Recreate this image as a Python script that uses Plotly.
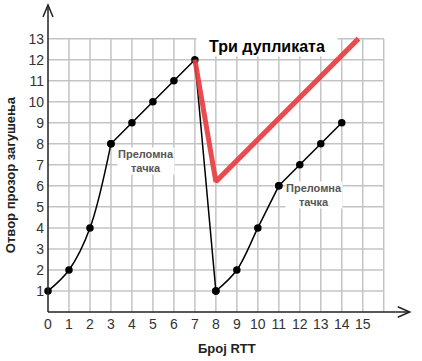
import plotly.graph_objects as go

# Data
rtt_a = [0, 1, 2, 3]
cwnd_a = [1, 2, 4, 8]
rtt_b = [3, 4, 5, 6, 7, 8]
cwnd_b = [8, 9, 10, 11, 12, 1]
rtt_c = [8, 9, 10, 11]
cwnd_c = [1, 2, 4, 6]
rtt_d = [11, 12, 13, 14]
cwnd_d = [6, 7, 8, 9]
red_x = [7, 8, 14.8]
red_y = [12, 6.2, 13]
x_ticks = list(range(0, 16))
y_ticks = list(range(1, 14))
grid_x_max = 16
grid_y_max = 13

XMAX = 17.3
YMAX = 14.6
W, H = 422, 361
ML, MR, MT, MB = 48, 10.7, 5.1, 49.3
pw = W - ML - MR
ph = H - MT - MB


def px(xp):
    return (xp - ML) / pw


def py(yp):
    return (H - MB - yp) / ph


fig = go.Figure()

# grid
shapes = []
gc = "#c4c4c4"
for gx in range(1, grid_x_max + 1):
    shapes.append(dict(type="line", xref="x", yref="y", x0=gx, x1=gx, y0=0, y1=grid_y_max,
                       line=dict(color=gc, width=1.5), layer="below"))
for gy in range(1, grid_y_max + 1):
    shapes.append(dict(type="line", xref="x", yref="y", x0=0, x1=grid_x_max, y0=gy, y1=gy,
                       line=dict(color=gc, width=1.5), layer="below"))
# axes with arrows (paper coords so they are not clipped)
ax_col = "#222"
shapes.append(dict(type="line", xref="paper", yref="paper", x0=px(48), x1=px(410), y0=py(311.7), y1=py(311.7),
                   line=dict(color=ax_col, width=1.5)))
shapes.append(dict(type="line", xref="paper", yref="paper", x0=px(48), x1=px(48), y0=py(311.7), y1=py(5),
                   line=dict(color=ax_col, width=1.5)))
shapes.append(dict(type="path", xref="paper", yref="paper",
                   path=f"M {px(398)},{py(306.5)} L {px(410)},{py(311.7)} L {px(398)},{py(316.9)}",
                   line=dict(color=ax_col, width=1.5)))
shapes.append(dict(type="path", xref="paper", yref="paper",
                   path=f"M {px(43)},{py(17)} L {px(48)},{py(5)} L {px(53)},{py(17)}",
                   line=dict(color=ax_col, width=1.5)))

line_style = dict(color="black", width=1.5)
mk = dict(color="black", size=7.5)
fig.add_trace(go.Scatter(x=rtt_a, y=cwnd_a, mode="lines+markers", line=dict(shape="spline", smoothing=1.0, **line_style), marker=mk, cliponaxis=False))
fig.add_trace(go.Scatter(x=rtt_b, y=cwnd_b, mode="lines+markers", line=line_style, marker=mk, cliponaxis=False))
fig.add_trace(go.Scatter(x=rtt_c, y=cwnd_c, mode="lines+markers", line=dict(shape="spline", smoothing=1.0, **line_style), marker=mk, cliponaxis=False))
fig.add_trace(go.Scatter(x=rtt_d, y=cwnd_d, mode="lines+markers", line=line_style, marker=mk, cliponaxis=False))
fig.add_trace(go.Scatter(x=red_x, y=red_y, mode="lines", line=dict(color="rgba(232,60,64,0.92)", width=5)))

ann = []
ann.append(dict(x=px(267), y=py(46), xref="paper", yref="paper", text="<b>Три дупликата</b>", showarrow=False,
                xanchor="center", yanchor="middle", width=140, height=20,
                font=dict(family="Liberation Sans, Arial", size=16, color="black"),
                bgcolor="white", borderpad=0))
ann.append(dict(x=4.65, y=7.2, xref="x", yref="y", text="<b>Преломна<br>тачка</b>", showarrow=False,
                font=dict(family="Liberation Sans, Arial", size=11, color="#555"), bgcolor="white",
                borderpad=0))
ann.append(dict(x=12.7, y=5.55, xref="x", yref="y", text="<b>Преломна<br>тачка</b>", showarrow=False,
                font=dict(family="Liberation Sans, Arial", size=11, color="#555"), bgcolor="white",
                borderpad=0))
# axis titles
ann.append(dict(x=px(227), y=py(348), xref="paper", yref="paper", text="<b>Број RTT</b>",
                xanchor="center", yanchor="middle",
                showarrow=False, font=dict(family="Liberation Sans, Arial", size=13, color="#222")))
ann.append(dict(x=px(10), y=py(175), xref="paper", yref="paper",
                xanchor="center", yanchor="middle",
                text="<b>Отвор прозор загушења</b>", showarrow=False,
                textangle=-90, font=dict(family="Liberation Sans, Arial", size=13, color="#222")))

fig.update_layout(
    width=W, height=H,
    margin=dict(l=ML, r=MR, t=MT, b=MB),
    plot_bgcolor="white", paper_bgcolor="white",
    showlegend=False,
    shapes=shapes, annotations=ann,
    xaxis=dict(range=[0, XMAX], tickvals=x_ticks, showgrid=False, zeroline=False, showline=False, automargin=False,
               tickfont=dict(family="Liberation Sans, Arial", size=14, color="#333"), ticks="", ticklabelstandoff=2),
    yaxis=dict(range=[0, YMAX], tickvals=y_ticks, showgrid=False, zeroline=False, showline=False, automargin=False,
               tickfont=dict(family="Liberation Sans, Arial", size=14, color="#333"), ticks="", ticklabelstandoff=3),
)
fig.write_html("out.html", config={"displayModeBar": False},
               post_script="document.body.style.margin='0';document.body.style.overflow='hidden';")
